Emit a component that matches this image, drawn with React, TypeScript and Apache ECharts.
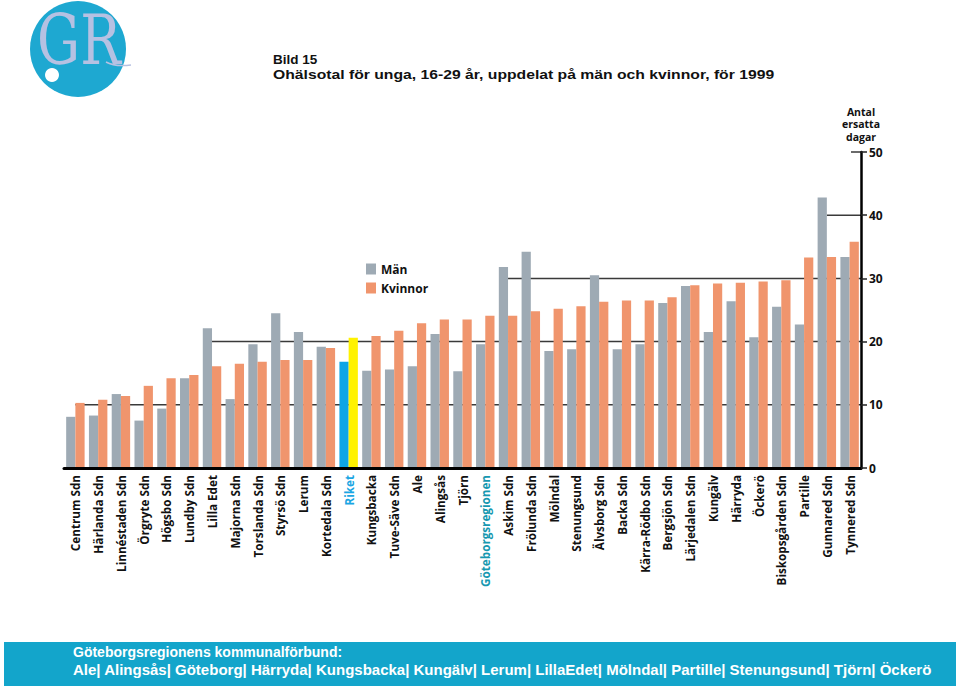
import React, { useEffect, useRef } from "react";
import * as echarts from "echarts";

const categories = [
  "Centrum Sdn", "Härlanda Sdn", "Linnéstaden Sdn", "Örgryte Sdn", "Högsbo Sdn",
  "Lundby Sdn", "Lilla Edet", "Majorna Sdn", "Torslanda Sdn", "Styrsö Sdn",
  "Lerum", "Kortedala Sdn", "Riket", "Kungsbacka", "Tuve-Säve Sdn", "Ale",
  "Alingsås", "Tjörn", "Göteborgsregionen", "Askim Sdn", "Frölunda Sdn",
  "Mölndal", "Stenungsund", "Älvsborg Sdn", "Backa Sdn", "Kärra-Rödbo Sdn",
  "Bergsjön Sdn", "Lärjedalen Sdn", "Kungälv", "Härryda", "Öckerö",
  "Biskopsgården Sdn", "Partille", "Gunnared Sdn", "Tynnered Sdn",
];

const men = [
  8.1, 8.3, 11.7, 7.5, 9.4, 14.2, 22.1, 10.9, 19.6, 24.5,
  21.5, 19.2, 16.8, 15.4, 15.6, 16.1, 21.2, 15.3, 19.6, 31.8,
  34.2, 18.5, 18.8, 30.5, 18.8, 19.6, 26.1, 28.8, 21.5, 26.4,
  20.7, 25.5, 22.7, 42.8, 33.4,
];

const women = [
  10.3, 10.8, 11.4, 13.0, 14.2, 14.7, 16.1, 16.5, 16.8, 17.1,
  17.1, 19.0, 20.6, 20.9, 21.7, 22.9, 23.5, 23.5, 24.1, 24.1,
  24.8, 25.2, 25.6, 26.3, 26.5, 26.5, 27.0, 28.9, 29.2, 29.3,
  29.5, 29.7, 33.3, 33.4, 35.8,
];

const yTicks = [0, 10, 20, 30, 40, 50];
const gridValues = [10, 20, 30, 40, 50];

const seriesNames = ["Män", "Kvinnor"];
const titleLines = [
  "Bild 15",
  "Ohälsotal för unga, 16-29 år, uppdelat på män och kvinnor, för 1999",
];
const footerLines = [
  "Göteborgsregionens kommunalförbund:",
  "Ale| Alingsås| Göteborg| Härryda| Kungsbacka| Kungälv| Lerum| LillaEdet| Mölndal| Partille| Stenungsund| Tjörn| Öckerö",
];
const yAxisName = "Antal\nersatta\ndagar";

const GRAY = "#9eaab4";
const ORANGE = "#f0956d";
const RIKET_BLUE = "#0ea5e6";
const RIKET_YELLOW = "#fff200";
const CYAN = "#13a5cb";

export default function App() {
  const ref = useRef<HTMLDivElement>(null);

  useEffect(() => {
    document.body.style.margin = "0";
    if (!ref.current) return;
    const chart = echarts.init(ref.current, null, { renderer: "svg" });

    const gridStart = gridValues.map((v) =>
      categories.findIndex((_, k) => Math.max(men[k], women[k]) > v)
    );

    const labelFont = "'Open Sans', 'Noto Sans', sans-serif";

    const option: any = {
      animation: false,
      backgroundColor: "#ffffff",
      grid: { left: 64, right: 99, top: 152, bottom: 218, containLabel: false },
      legend: {
        show: true,
        orient: "vertical",
        left: 361,
        top: 258,
        itemWidth: 10,
        itemHeight: 11,
        itemGap: 7,
        icon: "rect",
        data: seriesNames,
        textStyle: {
          fontFamily: labelFont,
          fontWeight: "bold",
          fontSize: 12,
          color: "#111",
        },
      },
      xAxis: {
        type: "category",
        data: categories,
        z: 5,
        axisLine: { show: true, lineStyle: { color: "#000", width: 3 } },
        axisTick: { show: false },
        axisLabel: {
          interval: 0,
          rotate: 90,
          margin: 7,
          fontFamily: labelFont,
          fontWeight: "bold",
          fontSize: 11.7,
          color: (value: string) =>
            value === "Riket"
              ? "#1aa6e3"
              : value === "Göteborgsregionen"
              ? "#1798b0"
              : "#111",
        },
        splitLine: { show: false },
      },
      yAxis: {
        type: "value",
        position: "right",
        min: 0,
        max: 50,
        interval: 10,
        z: 5,
        name: yAxisName,
        nameLocation: "end",
        nameGap: 9,
        nameTextStyle: {
          fontFamily: labelFont,
          fontWeight: "bold",
          fontSize: 10.5,
          lineHeight: 12.5,
          color: "#111",
          align: "center",
          verticalAlign: "bottom",
        },
        axisLine: { show: true, lineStyle: { color: "#000", width: 2.5 } },
        axisTick: { show: true, length: 6, lineStyle: { color: "#222", width: 1.5 } },
        axisLabel: {
          margin: 8,
          fontFamily: labelFont,
          fontWeight: "bold",
          fontSize: 12,
          color: "#111",
          customValues: yTicks,
        },
        splitLine: { show: false },
      },
      series: [
        {
          type: "custom",
          name: "grid",
          z: 1,
          silent: true,
          legendHoverLink: false,
          data: gridValues.map((v, i) => [Math.max(gridStart[i], 0), v]),
          renderItem: (params: any, api: any) => {
            const idx = params.dataIndex;
            const v = gridValues[idx];
            const cs = params.coordSys;
            const right = cs.x + cs.width;
            const y = api.coord([0, v])[1];
            const si = gridStart[idx];
            const x0 = si >= 0 ? api.coord([si, v])[0] : right - 10;
            return {
              type: "line",
              shape: { x1: x0, y1: y, x2: right, y2: y },
              style: { stroke: "#3a3a3a", lineWidth: 1.5 },
            };
          },
        },
        {
          type: "bar",
          name: seriesNames[0],
          z: 2,
          barGap: "0%",
          barCategoryGap: "19%",
          itemStyle: { color: GRAY },
          data: men.map((v, i) =>
            categories[i] === "Riket" ? { value: v, itemStyle: { color: RIKET_BLUE } } : v
          ),
        },
        {
          type: "bar",
          name: seriesNames[1],
          z: 2,
          barGap: "0%",
          barCategoryGap: "19%",
          itemStyle: { color: ORANGE },
          data: women.map((v, i) =>
            categories[i] === "Riket" ? { value: v, itemStyle: { color: RIKET_YELLOW } } : v
          ),
        },
      ],
      graphic: [
        // logo
        { type: "circle", shape: { cx: 78, cy: 49, r: 48 }, style: { fill: "#1ea8d1" }, z: 10 },
        {
          type: "text",
          x: 37,
          y: 41,
          scaleX: 0.9,
          scaleY: 1.14,
          z: 11,
          style: {
            text: "GR",
            fill: "#b6c1e2",
            font: "normal 60px 'DejaVu Serif', 'Liberation Serif', serif",
            verticalAlign: "middle",
          },
        },
        {
          type: "bezierCurve",
          z: 11,
          shape: { x1: 106, y1: 62, x2: 131, y2: 65, cpx1: 113, cpy1: 66, cpx2: 123, cpy2: 66 },
          style: { stroke: "#b6c1e2", lineWidth: 1.5, fill: null },
        },
        { type: "circle", shape: { cx: 52, cy: 75, r: 7 }, style: { fill: "#ffffff" }, z: 12 },
        // title
        {
          type: "text",
          x: 273,
          y: 52,
          z: 10,
          style: {
            text: titleLines[0],
            fill: "#111",
            font: "bold 13.5px 'Liberation Sans', Arial, sans-serif",
          },
        },
        {
          type: "text",
          x: 273,
          y: 67,
          scaleX: 1.165,
          z: 10,
          style: {
            text: titleLines[1],
            fill: "#111",
            font: "bold 13.5px 'Liberation Sans', Arial, sans-serif",
          },
        },
        // footer
        { type: "rect", shape: { x: 4, y: 642, width: 952, height: 44 }, style: { fill: CYAN }, z: 10 },
        {
          type: "text",
          x: 73,
          y: 645,
          z: 11,
          style: {
            text: footerLines[0],
            fill: "#ffffff",
            font: "bold 14px 'Liberation Sans', Arial, sans-serif",
          },
        },
        {
          type: "text",
          x: 73,
          y: 663,
          scaleX: 1.073,
          z: 11,
          style: {
            text: footerLines[1],
            fill: "#ffffff",
            font: "bold 14px 'Liberation Sans', Arial, sans-serif",
          },
        },
      ],
    };

    chart.setOption(option);
    return () => chart.dispose();
  }, []);

  return <div ref={ref} style={{ width: 960, height: 686 }} />;
}
